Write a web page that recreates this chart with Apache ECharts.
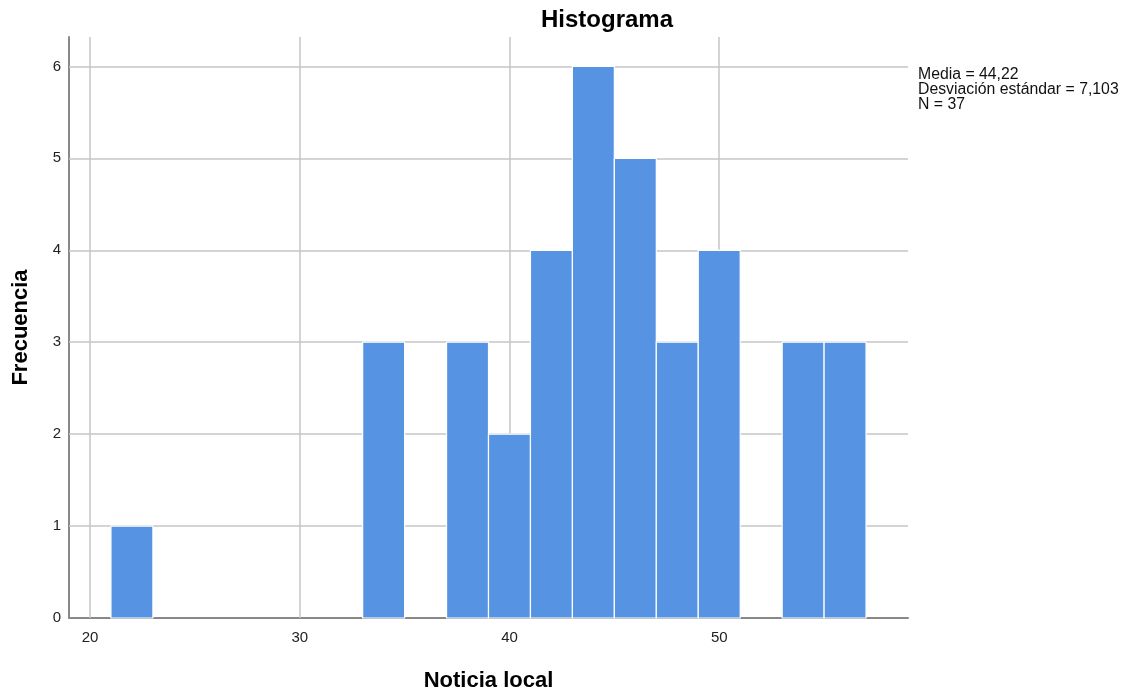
<!DOCTYPE html>
<html>
<head>
<meta charset="utf-8">
<script src="https://cdn.jsdelivr.net/npm/echarts@6/dist/echarts.min.js"></script>
<style>
html,body{margin:0;padding:0;background:#fff;}
#chart{width:1129px;height:696px;}
</style>
</head>
<body>
<div id="chart"></div>
<script>
// Data
const binStarts = [21, 33, 37, 39, 41, 43, 45, 47, 49, 53, 55];
const binWidth = 2;
const counts = [1, 3, 3, 2, 4, 6, 5, 3, 4, 3, 3];
const xGridValues = [20, 30, 40, 50];
const yGridValues = [1, 2, 3, 4, 5, 6];
const statsLines = ['Media = 44,22', 'Desviación estándar = 7,103', 'N = 37'];
const titleText = 'Histograma';
const xName = 'Noticia local';
const yName = 'Frecuencia';

const FONT = '"Liberation Sans", Arial, sans-serif';
const chart = echarts.init(document.getElementById('chart'), null, {renderer: 'canvas'});

const histData = binStarts.map((s, i) => [s, s + binWidth, counts[i]]);

const option = {
  animation: false,
  backgroundColor: '#fff',
  title: {
    text: titleText,
    left: 602, top: 3, textAlign: 'center',
    textStyle: {fontFamily: FONT, fontSize: 24, fontWeight: 'bold', color: '#000'}
  },
  grid: {left: 69, right: 221, top: 37, bottom: 78, containLabel: false, outerBoundsMode: 'none'},
  xAxis: {
    type: 'value', min: 19, max: 59, interval: 1,
    name: xName, nameLocation: 'middle', nameGap: 52,
    nameTextStyle: {fontFamily: FONT, fontSize: 22, fontWeight: 'bold', color: '#000'},
    axisLine: {show: true, lineStyle: {color: '#888', width: 2}},
    axisTick: {show: false},
    splitLine: {show: false},
    axisLabel: {
      fontFamily: FONT, fontSize: 15, color: '#222', margin: 12,
      formatter: v => (v % 10 === 0 ? String(v) : '')
    }
  },
  yAxis: {
    type: 'value', min: 0, max: 6.32, interval: 1,
    name: yName, nameLocation: 'middle', nameGap: 37,
    nameTextStyle: {fontFamily: FONT, fontSize: 22, fontWeight: 'bold', color: '#000'},
    axisLine: {show: true, lineStyle: {color: '#888', width: 2}},
    axisTick: {show: false},
    splitLine: {show: false},
    axisLabel: {
      fontFamily: FONT, fontSize: 15, color: '#222', margin: 8,
      formatter: v => (Number.isInteger(v) ? String(v) : '')
    }
  },
  series: [
    {
      type: 'line', data: [], z: 1, silent: true,
      markLine: {
        z: 1,
        silent: true, symbol: 'none', animation: false,
        label: {show: false},
        lineStyle: {color: '#c6c6c6', width: 1.5, type: 'solid'},
        data: xGridValues.map(v => ({xAxis: v})).concat(yGridValues.map(v => ({yAxis: v})))
      }
    },
    {
      type: 'custom', z: 10,
      renderItem: function (params, api) {
        const x0 = api.value(0), x1 = api.value(1), y = api.value(2);
        const p0 = api.coord([x0, y]);
        const p1 = api.coord([x1, 0]);
        return {
          type: 'rect',
          shape: {x: p0[0], y: p0[1], width: p1[0] - p0[0], height: p1[1] - p0[1]},
          style: {fill: '#5694e3', stroke: '#ffffff', lineWidth: 1.2}
        };
      },
      encode: {x: [0, 1], y: 2},
      data: histData
    }
  ],
  graphic: [
    {
      type: 'text', left: 918, top: 67,
      style: {
        text: statsLines.join('\n'),
        font: '15.8px ' + FONT, fill: '#111', lineHeight: 15
      }
    }
  ]
};
chart.setOption(option);
</script>
</body>
</html>
